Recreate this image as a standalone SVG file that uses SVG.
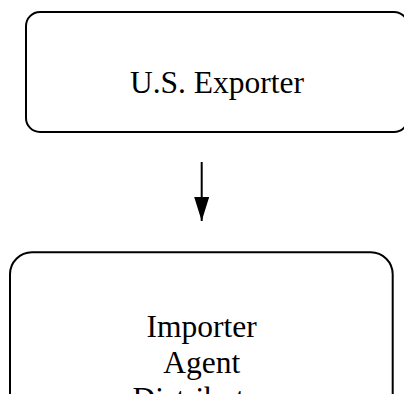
<svg xmlns="http://www.w3.org/2000/svg" width="404" height="394" viewBox="0 0 404 394">
  <defs>
    <marker id="arrowhead" markerUnits="userSpaceOnUse" markerWidth="25" markerHeight="16" refX="24" refY="8" orient="auto" viewBox="0 0 25 16">
      <path d="M0,0.5 L24,8 L0,15.5 Z" fill="#000"/>
    </marker>
    <style>
      .box { fill: #fff; stroke: #000; stroke-width: 2; }
      .label { font-family: "Liberation Serif", "Times New Roman", serif; font-size: 31.5px; fill: #000; text-anchor: middle; }
      .edge { stroke: #000; stroke-width: 2; fill: none; }
    </style>
  </defs>
  <rect width="404" height="394" fill="#fff"/>

  <g id="node-exporter">
    <rect class="box" x="26" y="12" width="382" height="120" rx="14" ry="14"/>
    <text class="label" x="217" y="93">U.S. Exporter</text>
  </g>

  <g id="connectors">
    <path class="edge" d="M201.7,162 V221" marker-end="url(#arrowhead)"/>
  </g>

  <g id="node-importer">
    <rect class="box" x="10" y="252.3" width="382.7" height="180" rx="22" ry="22"/>
    <text class="label" x="201.7" y="336.7">Importer</text>
    <text class="label" x="201.7" y="372.7">Agent</text>
    <text class="label" x="201.7" y="408.7">Distributor</text>
  </g>
</svg>
